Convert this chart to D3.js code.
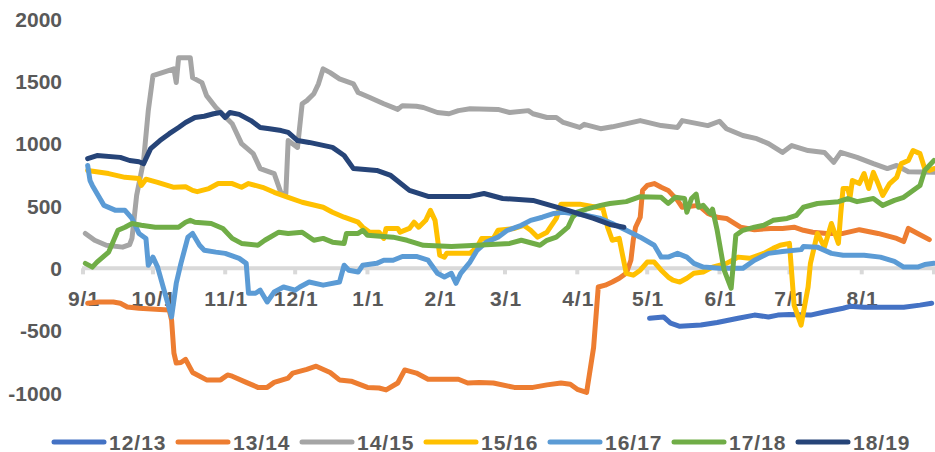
<!DOCTYPE html>
<html>
<head>
<meta charset="utf-8">
<script src="https://cdn.jsdelivr.net/npm/d3@7"></script>
<style>
  body { margin: 0; background: #fff; }
  text { font-family: "Liberation Sans", Arial, sans-serif; font-weight: bold; fill: #595959; }
</style>
</head>
<body>
<div id="chart"></div>
<script>
// seasons and their colours (Excel office palette)
var seasons = ["12/13", "13/14", "14/15", "15/16", "16/17", "17/18", "18/19"];
var colors = ["#4472C4", "#ED7D31", "#A5A5A5", "#FFC000", "#5B9BD5", "#70AD47", "#264478"];

// x tick labels (first day of each month, season starts 9/1)
var monthLabels = ["9/1", "10/1", "11/1", "12/1", "1/1", "2/1", "3/1", "4/1", "5/1", "6/1", "7/1", "8/1"];
var yTicks = [-1000, -500, 0, 500, 1000, 1500, 2000];

// each series: [days after 9/1, value]
var s1213 = [[243,-400],[249,-390],[252,-440],[256,-465],[265,-455],[272,-435],[281,-400],[288,-375],[294,-390],[298,-375],
  [303,-370],[312,-375],[318,-350],[326,-320],[329,-305],[335,-312],[345,-312],[352,-312],[359,-295],[364,-280]];

var s1314 = [[2,-280],[7,-270],[13,-270],[16,-280],[19,-310],[24,-320],[33,-330],[37,-335],[38,-415],[39,-680],[40,-760],
  [42,-755],[44,-730],[47,-835],[53,-895],[59,-895],[62,-855],[64,-865],[70,-915],[75,-955],[79,-955],[82,-915],[88,-880],
  [90,-840],[96,-810],[100,-785],[106,-835],[110,-895],[115,-905],[122,-955],[127,-960],[130,-975],[135,-920],[138,-815],
  [143,-840],[148,-890],[161,-890],[165,-920],[170,-915],[176,-920],[185,-955],[193,-955],[199,-935],[205,-920],[209,-930],
  [212,-970],[216,-995],[219,-635],[221,-150],[224,-135],[227,-110],[230,-80],[233,-40],[235,65],[236,225],[237,330],
  [239,410],[240,625],[242,665],[245,680],[248,650],[251,625],[255,545],[257,490],[264,505],[268,440],[272,410],[276,400],
  [282,330],[288,310],[295,320],[300,320],[305,330],[309,305],[313,290],[319,280],[326,280],[333,310],[341,280],[349,240],
  [352,215],[354,320],[358,280],[363,230]];

var s1415 = [[1,280],[5,225],[10,185],[17,170],[20,190],[21,240],[23,585],[26,865],[28,1265],[30,1545],[39,1600],[40,1490],
  [41,1690],[46,1690],[47,1530],[51,1490],[53,1385],[57,1290],[64,1160],[68,1000],[73,920],[76,800],[82,760],[85,600],
  [87,600],[88,1025],[92,970],[94,1320],[96,1345],[99,1400],[101,1480],[103,1600],[106,1570],[110,1520],[116,1480],
  [118,1410],[123,1370],[129,1320],[135,1275],[137,1305],[143,1300],[146,1290],[152,1250],[157,1240],[161,1265],[166,1280],
  [178,1275],[183,1250],[191,1265],[193,1240],[199,1210],[203,1210],[206,1170],[213,1130],[215,1155],[222,1120],[227,1135],
  [239,1185],[248,1145],[255,1130],[257,1185],[268,1145],[273,1180],[276,1120],[283,1065],[289,1040],[294,1000],[300,930],
  [304,985],[311,945],[318,930],[322,850],[325,930],[332,890],[339,840],[345,800],[349,825],[354,775],[365,770]];

var s1516 = [[2,785],[11,760],[18,730],[24,720],[25,665],[27,715],[32,690],[39,650],[44,655],[47,625],[49,615],[54,640],
  [58,680],[64,680],[68,650],[71,680],[77,650],[82,610],[88,570],[94,530],[103,490],[107,450],[112,410],[118,370],[120,330],
  [123,290],[127,290],[129,240],[130,320],[135,320],[136,290],[140,320],[142,370],[144,330],[147,385],[149,465],[151,385],
  [153,105],[155,90],[156,120],[166,120],[169,170],[171,240],[176,240],[178,305],[185,320],[189,345],[192,305],[195,250],
  [199,290],[203,400],[205,515],[213,515],[219,495],[223,480],[225,330],[227,225],[230,240],[231,145],[233,-40],[236,-55],
  [239,-15],[242,50],[245,50],[248,-15],[251,-70],[253,-95],[256,-110],[259,-80],[262,-40],[266,-30],[270,10],[276,40],
  [281,90],[286,80],[292,120],[296,160],[299,185],[303,200],[305,-295],[308,-455],[311,-150],[312,40],[314,200],[315,280],
  [318,170],[321,360],[324,200],[325,440],[326,640],[328,640],[329,570],[330,705],[333,680],[335,760],[337,640],[339,770],
  [341,680],[343,585],[346,680],[349,730],[351,840],[354,865],[356,945],[359,920],[361,800],[363,785],[365,800]];

var s1617 = [[2,825],[3,705],[4,665],[6,600],[9,505],[14,465],[18,465],[21,400],[24,280],[27,240],[28,25],[30,90],[32,10],
  [38,-390],[40,-120],[42,40],[45,250],[47,280],[50,185],[52,145],[57,130],[61,120],[67,80],[70,40],[71,-200],[74,-200],
  [76,-175],[79,-270],[82,-190],[86,-150],[91,-175],[93,-150],[97,-110],[103,-135],[110,-110],[112,25],[114,-15],[118,-30],
  [120,25],[126,40],[129,65],[133,65],[137,95],[143,95],[148,65],[152,-40],[155,-70],[158,-40],[160,-120],[162,-40],
  [166,50],[169,145],[173,210],[178,250],[182,305],[188,345],[192,385],[197,410],[202,440],[206,450],[210,440],[216,425],
  [222,400],[227,360],[233,305],[239,250],[245,185],[248,90],[251,90],[255,120],[259,90],[262,40],[266,10],[273,0],
  [283,0],[288,65],[294,120],[300,135],[308,150],[309,175],[315,170],[321,120],[326,105],[335,105],[342,90],[348,55],
  [352,10],[358,10],[361,30],[365,40]];

var s1718 = [[1,40],[4,10],[6,50],[11,130],[15,305],[18,330],[21,360],[25,345],[31,330],[41,330],[44,370],[46,385],[48,370],
  [55,360],[60,320],[64,240],[68,200],[75,185],[78,225],[84,290],[88,280],[94,290],[99,225],[103,240],[107,210],[112,200],
  [113,280],[118,280],[120,305],[122,265],[133,250],[139,225],[146,185],[158,175],[169,185],[183,200],[188,225],[196,185],
  [199,225],[203,250],[208,330],[210,410],[212,450],[216,475],[222,505],[226,520],[233,535],[239,575],[248,570],[251,520],
  [254,570],[258,560],[259,450],[261,560],[263,595],[264,490],[266,505],[269,440],[270,475],[272,305],[275,-15],[278,-160],
  [280,265],[283,305],[288,330],[292,345],[296,385],[302,400],[306,425],[309,490],[315,520],[324,535],[328,560],[332,535],
  [339,560],[343,505],[348,545],[352,570],[356,625],[359,665],[361,785],[365,865]];

var s1819 = [[2,880],[6,905],[16,890],[20,865],[24,855],[26,840],[29,960],[33,1025],[37,1080],[41,1130],[44,1170],[48,1210],
  [52,1220],[56,1240],[59,1250],[61,1210],[63,1250],[67,1235],[72,1185],[76,1130],[80,1120],[85,1105],[88,1090],[92,1025],
  [97,1010],[107,970],[112,905],[116,800],[126,785],[132,745],[140,625],[148,577],[166,577],[172,600],[180,560],[193,545],
  [208,465],[219,400],[226,352],[232,330]];

var seriesData = [s1213, s1314, s1415, s1516, s1617, s1718, s1819];

var W = 935, H = 452;
var start = new Date(2018, 8, 1);
function dayDate(n) { return d3.timeDay.offset(start, n); }

var svg = d3.select("#chart")
    .append("svg")
    .attr("width", W)
    .attr("height", H);

var x = d3.scaleTime()
    .domain([start, new Date(2019, 8, 1)])
    .range([83, 934]);

var y = d3.scaleLinear()
    .domain([-1000, 2000])
    .range([393, 19]);

// y axis labels (no axis line, no gridlines)
svg.append("g")
    .selectAll("text")
    .data(yTicks)
    .enter()
    .append("text")
    .attr("x", 62)
    .attr("y", function(d) { return y(d) + 7.5; })
    .attr("text-anchor", "end")
    .style("font-size", "21px")
    .text(function(d) { return d; });

// zero line with month ticks
var monthDates = d3.timeMonth.range(start, new Date(2019, 8, 2));
svg.append("line")
    .attr("x1", x(start) - 1)
    .attr("x2", W)
    .attr("y1", y(0))
    .attr("y2", y(0))
    .attr("stroke", "#d9d9d9")
    .attr("stroke-width", 4);

svg.append("g")
    .selectAll("rect")
    .data(monthDates)
    .enter()
    .append("rect")
    .attr("x", function(d) { return x(d) - 2; })
    .attr("y", y(0))
    .attr("width", 4)
    .attr("height", 6)
    .attr("fill", "#d9d9d9");

svg.append("g")
    .selectAll("text")
    .data(monthLabels)
    .enter()
    .append("text")
    .attr("x", function(d, i) { return x(monthDates[i]) + 1; })
    .attr("y", y(0) + 37.5)
    .attr("text-anchor", "middle")
    .style("font-size", "21px")
    .style("letter-spacing", "1px")
    .text(function(d) { return d; });

// lines, later seasons drawn on top
var line = d3.line()
    .x(function(d) { return x(dayDate(d[0])); })
    .y(function(d) { return y(d[1]); });

svg.append("g")
    .selectAll("path")
    .data(seriesData)
    .enter()
    .append("path")
    .attr("fill", "none")
    .attr("stroke", function(d, i) { return colors[i]; })
    .attr("stroke-width", 5)
    .attr("stroke-linejoin", "round")
    .attr("stroke-linecap", "round")
    .attr("d", line);

// legend along the bottom
var legendX = function(i) { return 54 + i * 124; };

svg.append("g")
    .selectAll("line")
    .data(seasons)
    .enter()
    .append("line")
    .attr("x1", function(d, i) { return legendX(i); })
    .attr("x2", function(d, i) { return legendX(i) + 50; })
    .attr("y1", 442)
    .attr("y2", 442)
    .attr("stroke", function(d, i) { return colors[i]; })
    .attr("stroke-width", 5)
    .attr("stroke-linecap", "round");

svg.append("g")
    .selectAll("text")
    .data(seasons)
    .enter()
    .append("text")
    .attr("x", function(d, i) { return legendX(i) + 55; })
    .attr("y", 449.5)
    .style("font-size", "21px")
    .style("letter-spacing", "1px")
    .text(function(d) { return d; });
</script>
</body>
</html>
